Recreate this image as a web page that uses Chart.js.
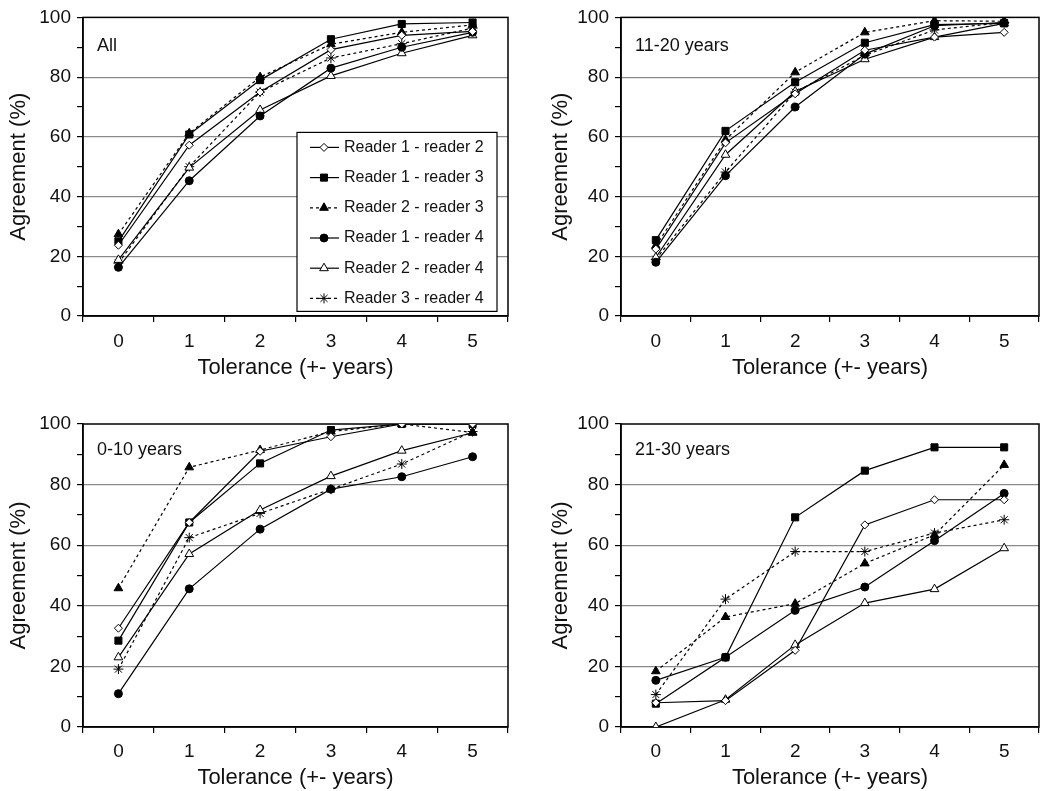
<!DOCTYPE html>
<html>
<head>
<meta charset="utf-8">
<script src="https://cdn.jsdelivr.net/npm/chart.js@4.4.1/dist/chart.umd.min.js"></script>
<style>
  html, body { margin: 0; padding: 0; background: #fff; }
  body { width: 1045px; height: 791px; position: relative; overflow: hidden; }
  .panel { position: absolute; }
</style>
</head>
<body>
<div class="panel" style="left:0;top:0;width:525px;height:395px"><canvas id="cAll"></canvas></div>
<div class="panel" style="left:540px;top:0;width:505px;height:395px"><canvas id="c1120"></canvas></div>
<div class="panel" style="left:0;top:400px;width:525px;height:391px"><canvas id="c010"></canvas></div>
<div class="panel" style="left:540px;top:400px;width:505px;height:391px"><canvas id="c2130"></canvas></div>
<script>
const tolerance = ['0', '1', '2', '3', '4', '5'];
const pairNames = ['Reader 1 - reader 2', 'Reader 1 - reader 3', 'Reader 2 - reader 3',
                   'Reader 1 - reader 4', 'Reader 2 - reader 4', 'Reader 3 - reader 4'];

// All ages
const all_r1r2 = [23.7, 57.2, 75.0, 89.2, 94.0, 95.3];
const all_r1r3 = [25.0, 60.8, 79.0, 92.7, 97.8, 98.3];
const all_r2r3 = [27.4, 61.2, 80.0, 91.0, 95.0, 97.5];
const all_r1r4 = [16.3, 45.3, 67.0, 83.0, 90.0, 95.0];
const all_r2r4 = [18.8, 49.7, 69.0, 80.4, 88.0, 94.0];
const all_r3r4 = [17.7, 50.0, 75.0, 86.4, 91.2, 96.4];

// 11-20 years
const y1120_r1r2 = [22.4, 58.0, 74.4, 89.0, 93.4, 95.0];
const y1120_r1r3 = [25.4, 62.0, 78.3, 91.5, 97.6, 98.0];
const y1120_r2r3 = [23.5, 59.0, 81.6, 95.0, 98.9, 98.7];
const y1120_r1r4 = [18.0, 47.0, 70.0, 87.7, 97.2, 98.3];
const y1120_r2r4 = [19.6, 54.0, 75.2, 86.0, 93.4, 98.0];
const y1120_r3r4 = [19.0, 48.2, 75.0, 87.3, 95.8, 98.3];

// 0-10 years
const y010_r1r2 = [32.6, 67.5, 91.0, 95.8, 100, 100];
const y010_r1r3 = [28.5, 67.5, 87.0, 98.0, 100, 100];
const y010_r2r3 = [45.8, 85.7, 91.4, 97.5, 100, 97.2];
const y010_r1r4 = [11.0, 45.6, 65.3, 78.5, 82.6, 89.2];
const y010_r2r4 = [23.0, 57.1, 71.6, 82.8, 91.2, 97.1];
const y010_r3r4 = [19.1, 62.5, 70.5, 78.5, 86.8, 97.5];

// 21-30 years
const y2130_r1r2 = [8.0, 8.7, 25.3, 66.7, 75.0, 75.0];
const y2130_r1r3 = [7.7, 23.0, 69.2, 84.6, 92.3, 92.3];
const y2130_r2r3 = [18.4, 36.3, 40.7, 54.0, 63.4, 86.5];
const y2130_r1r4 = [15.4, 23.0, 38.5, 46.2, 61.5, 77.1];
const y2130_r2r4 = [0.0, 9.0, 27.1, 40.9, 45.5, 59.0];
const y2130_r3r4 = [10.7, 42.2, 57.9, 57.9, 64.0, 68.4];

const FONT = '"Liberation Sans", Arial, sans-serif';
const INK = '#111';

// marker / line look per reader pair
const pairStyle = [
  { pointStyle: 'rectRot',  radius: 4,   fill: '#fff', dash: [] },
  { pointStyle: 'rect',     radius: 5,   fill: '#000', dash: [] },
  { pointStyle: 'triangle', radius: 5,   fill: '#000', dash: [3, 3] },
  { pointStyle: 'circle',   radius: 4,   fill: '#000', dash: [] },
  { pointStyle: 'triangle', radius: 5,   fill: '#fff', dash: [] },
  { pointStyle: 'star',     radius: 5,   fill: '#000', dash: [3, 3] }
];

function makePanel(id, label, series, g) {
  const framePlugin = {
    id: 'frame' + id,
    beforeDatasetsDraw(chart) {
      const a = chart.chartArea, ctx = chart.ctx;
      ctx.save();
      ctx.strokeStyle = '#000';
      ctx.lineWidth = 1.5;
      ctx.strokeRect(a.left, a.top, a.right - a.left, a.bottom - a.top);
      ctx.restore();
    },
    afterDatasetsDraw(chart) {
      const a = chart.chartArea, ctx = chart.ctx;
      ctx.save();
      ctx.fillStyle = INK;
      ctx.font = '18px ' + FONT;
      ctx.textBaseline = 'middle';
      ctx.textAlign = 'left';
      ctx.fillText(label, a.left + 14, a.top + g.labelDy);

      if (g.legend) {
        const bx = a.right - 211, by = a.top + 115, bw = 200, bh = 179;
        ctx.fillStyle = '#fff';
        ctx.fillRect(bx, by, bw, bh);
        ctx.strokeStyle = '#000';
        ctx.lineWidth = 1.2;
        ctx.strokeRect(bx, by, bw, bh);
        ctx.font = '16px ' + FONT;
        chart.data.datasets.forEach((ds, i) => {
          const y = by + 15 + i * 30.2;
          ctx.strokeStyle = '#000';
          ctx.lineWidth = 1.2;
          ctx.setLineDash(ds.borderDash);
          ctx.beginPath();
          ctx.moveTo(bx + 13, y);
          ctx.lineTo(bx + 42, y);
          ctx.stroke();
          ctx.setLineDash([]);
          ctx.fillStyle = ds.pointBackgroundColor;
          ctx.lineWidth = 1;
          Chart.helpers.drawPoint(ctx, {
            pointStyle: ds.pointStyle, radius: ds.pointRadius, rotation: 0, borderWidth: 1
          }, bx + 27, y);
          ctx.fillStyle = INK;
          ctx.fillText(ds.label, bx + 47, y);
        });
      }
      ctx.restore();
    }
  };

  return new Chart(document.getElementById(id), {
    type: 'line',
    data: {
      labels: tolerance,
      datasets: series.map((vals, i) => ({
        label: pairNames[i],
        data: vals,
        borderColor: '#000',
        borderWidth: 1.2,
        borderDash: pairStyle[i].dash,
        tension: 0,
        fill: false,
        pointStyle: pairStyle[i].pointStyle,
        pointRadius: pairStyle[i].radius,
        pointBackgroundColor: pairStyle[i].fill,
        pointBorderColor: '#000',
        pointBorderWidth: 1
      }))
    },
    options: {
      responsive: true,
      maintainAspectRatio: false,
      animation: false,
      layout: { padding: { top: g.padTop, right: g.padRight, left: 0, bottom: 0 } },
      plugins: { legend: { display: false }, tooltip: { enabled: false } },
      scales: {
        x: {
          offset: true,
          grid: { offset: true, drawOnChartArea: false, drawTicks: true, tickLength: 6, tickColor: '#000', lineWidth: 1.2 },
          border: { color: '#000', width: 1.5 },
          ticks: { color: INK, font: { family: FONT, size: 19 }, padding: g.xTickPad, maxRotation: 0 },
          title: { display: true, text: 'Tolerance (+- years)', color: INK,
                   font: { family: FONT, size: 22 }, padding: { top: 0, bottom: g.xTitlePad } },
          afterFit(scale) { scale.height = g.xHeight; }
        },
        y: {
          min: 0, max: 100,
          grid: {
            color: (c) => (c.tick && c.tick.value % 20 === 0 && c.tick.value > 0 && c.tick.value < 100) ? '#8a8a8a' : 'rgba(0,0,0,0)',
            lineWidth: 1.2, tickLength: 6, tickColor: '#000'
          },
          border: { color: '#000', width: 1.5 },
          ticks: { stepSize: 10, color: INK, font: { family: FONT, size: 19 }, padding: 6,
                   callback: (v) => (v % 20 === 0 ? v : '') },
          title: { display: true, text: 'Agreement (%)', color: INK,
                   font: { family: FONT, size: 22 }, padding: { top: g.yTitlePad, bottom: 0 } },
          afterFit(scale) { scale.width = g.yWidth; }
        }
      }
    },
    plugins: [framePlugin]
  });
}

makePanel('cAll', 'All',
  [all_r1r2, all_r1r3, all_r2r3, all_r1r4, all_r2r4, all_r3r4],
  { yWidth: 83, padTop: 14, padRight: 17, xHeight: 79, xTickPad: 8, xTitlePad: 14, yTitlePad: 6, labelDy: 29, legend: true });

makePanel('c1120', '11-20 years',
  [y1120_r1r2, y1120_r1r3, y1120_r2r3, y1120_r1r4, y1120_r2r4, y1120_r3r4],
  { yWidth: 81, padTop: 14, padRight: 5, xHeight: 79, xTickPad: 8, xTitlePad: 14, yTitlePad: 8, labelDy: 29, legend: false });

makePanel('c010', '0-10 years',
  [y010_r1r2, y010_r1r3, y010_r2r3, y010_r1r4, y010_r2r4, y010_r3r4],
  { yWidth: 83, padTop: 24, padRight: 17, xHeight: 64, xTickPad: 7, xTitlePad: 0, yTitlePad: 6, labelDy: 26, legend: false });

makePanel('c2130', '21-30 years',
  [y2130_r1r2, y2130_r1r3, y2130_r2r3, y2130_r1r4, y2130_r2r4, y2130_r3r4],
  { yWidth: 81, padTop: 24, padRight: 5, xHeight: 64, xTickPad: 7, xTitlePad: 0, yTitlePad: 8, labelDy: 26, legend: false });
</script>
</body>
</html>
